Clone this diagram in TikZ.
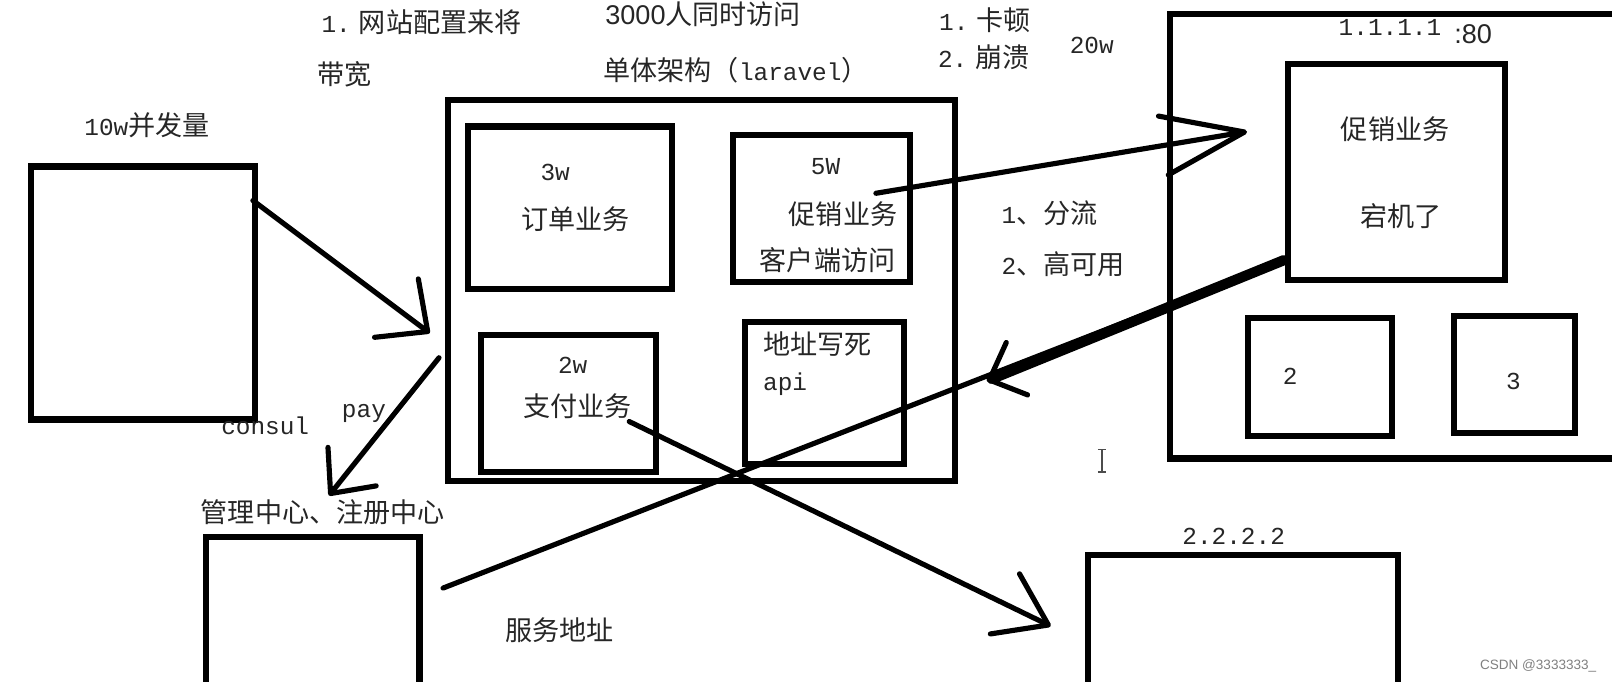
\documentclass[tikz,border=0pt]{standalone}
\usepackage{fontspec}
\setmainfont{Noto Sans CJK SC}
\newfontfamily\lat[Scale=0.9]{Liberation Mono}
\newfontfamily\arial{Liberation Sans}
\usetikzlibrary{arrows.meta,calc}

\begin{document}
\begin{tikzpicture}[x=0.02cm, y=-0.02cm,
    box/.style={draw, line width=3.4pt, inner sep=0pt},
    size/.style 2 args={minimum width=#1*0.02cm, minimum height=#2*0.02cm},
    lbl/.style={inner sep=0pt, text=black!85, font=\fontsize{15}{17}\selectfont},
    hand/.style={line width=2.85pt, line cap=round},
    barb/.style 2 args={-{Straight Barb[round, length=#1cm, width=#2cm]}}]
    \useasboundingbox (0,0) rectangle (1568,663);
    \clip (0,0) rectangle (1568,663);

    % Boxes
    \node[box, size={218}{246}] (client) at (139,285) {};
    \node[box, size={493}{371}] (mono) at (682.5,282.5) {};
    \node[box, size={199}{158}] (order) at (554.5,202) {};
    \node[box, size={172}{143}] (promo) at (799,202.5) {};
    \node[box, size={170}{133}] (pay) at (553,392.5) {};
    \node[box, size={154}{138}] (api) at (802,382) {};
    \node[box, size={462}{432}] (srvA) at (1369,230) {};
    \node[box, size={211}{210}] (promoB) at (1358.5,167) {};
    \node[box, size={140}{115}] (nodeB) at (1284,366.5) {};
    \node[box, size={118}{114}] (nodeC) at (1473,364) {};
    \node[box, size={302}{170}] (srvB) at (1209,625) {};
    \node[box, size={208}{188}] (consul) at (304,616) {};

    % Labels
    \node[lbl] (t10w) at (143,122) {{\lat 10w}并发量};
    \node[lbl] (tweb) at (410,22) {{\lat 1.} 网站配置来将};
    \node[lbl] (tbw) at (335,72) {带宽};
    \node[lbl] (t3000) at (684,14) {{\arial 3000}人同时访问};
    \node[lbl] (tmono) at (716,68) {单体架构（{\lat laravel}）};
    \node[lbl] (tlag) at (958,20) {{\lat 1.} 卡顿};
    \node[lbl] (tcrash) at (957,56) {{\lat 2.} 崩溃};
    \node[lbl] (t20w) at (1062,44) {\lat 20w};
    \node[lbl] (tipA) at (1352,27) {\lat 1.1.1.1};
    \node[lbl] (tport) at (1433,33) {\arial :80};
    \node[lbl] (tpromoB) at (1357,126) {促销业务};
    \node[lbl] (tdown) at (1363,210) {宕机了};
    \node[lbl] (t3w) at (540,168) {\lat 3w};
    \node[lbl] (torder) at (560,213) {订单业务};
    \node[lbl] (t5w) at (803,162) {\lat 5W};
    \node[lbl] (tpromo) at (820,208) {促销业务};
    \node[lbl] (tclient) at (805,253) {客户端访问};
    \node[lbl] (tsplit) at (1021,207) {{\lat 1}、分流};
    \node[lbl] (tha) at (1034,257) {{\lat 2}、高可用};
    \node[lbl] (t2w) at (557,355) {\lat 2w};
    \node[lbl] (tpay) at (562,395) {支付业务};
    \node[lbl, anchor=west] (thard) at (742,335) {地址写死};
    \node[lbl, anchor=west] (tapi) at (742,374) {\lat api};
    \node[lbl] (tnB) at (1255,366) {\lat 2};
    \node[lbl] (tnC) at (1472,371) {\lat 3};
    \node[lbl] (tconsul) at (258,414) {\lat consul};
    \node[lbl] (tpayl) at (354,402) {\lat pay};
    \node[lbl] (treg) at (314,498) {管理中心、注册中心};
    \node[lbl] (taddr) at (544,613) {服务地址};
    \node[lbl] (tipB) at (1200,522) {\lat 2.2.2.2};
    \node[inner sep=0pt, anchor=east, text=black!50, font=\arial\fontsize{7.5}{9}\selectfont] (mark) at (1553,648) {CSDN @3333333\_};

    % Text cursor
    \draw[line width=0.8pt, black!70] (1072,437) -- (1072,459)
        (1068,437) -- (1076,437) (1068,459) -- (1076,459);

    % Arrows
    \draw[hand, barb={0.76}{1.42}] ($(client.north east)+(-5,36)$) -- ($(mono.west)+(-15,41.5)$);
    \draw[hand, barb={0.67}{1.2}] ($(mono.west)+(-6,65.5)$) -- ($(consul.north)+(16,-37)$);
    \draw[hand, barb={0.94}{1.3}] ($(pay.center)+(59,17.5)$) -- ($(srvB.north west)+(-33,72)$);
    \draw[hand, barb={1.6}{1.16}] ($(promo.center)+(53,-14.5)$) -- ($(promoB.west)+(-37,-39)$);
    \draw[hand] ($(consul.north east)+(20,53)$) -- ($(promoB.south west)+(-1,-22)$);
    \draw[hand, line width=5.7pt, -{Straight Barb[round, length=0.58cm, width=1.1cm, line width=2.85pt]}]
        ($(promoB.south west)+(-1,-22)$) -- ($(mono.east)+(28,88)$);
\end{tikzpicture}
\end{document}
